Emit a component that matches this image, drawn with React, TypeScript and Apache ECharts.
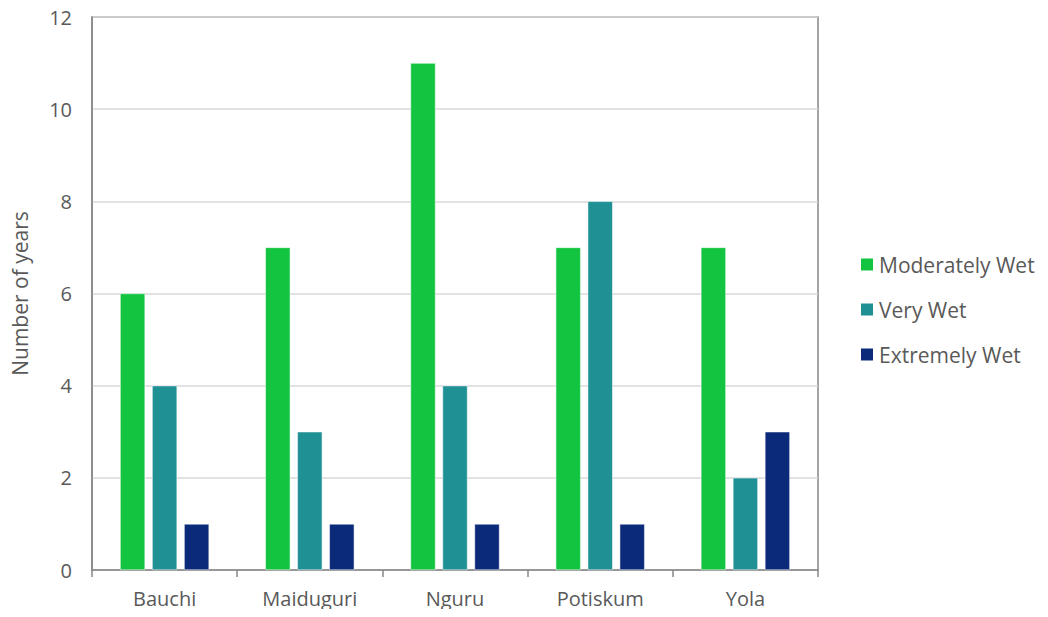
import React, { useEffect, useRef } from "react";
import * as echarts from "echarts";

const categories = ["Bauchi", "Maiduguri", "Nguru", "Potiskum", "Yola"];
const moderatelyWet = [6, 7, 11, 7, 7];
const veryWet = [4, 3, 4, 8, 2];
const extremelyWet = [1, 1, 1, 1, 3];
const seriesNames = ["Moderately Wet", "Very Wet", "Extremely Wet"];
const colors = ["#12C440", "#1F9094", "#0C2A7A"];

export default function App() {
  const ref = useRef<HTMLDivElement>(null);
  useEffect(() => {
    if (!ref.current) return;
    const chart = echarts.init(ref.current, null, { renderer: "svg" });
    const font = "'Open Sans', 'Noto Sans', sans-serif";
    const mk = (name: string, data: number[], color: string) => ({
      name,
      type: "bar",
      data,
      barWidth: 25,
      barGap: "28%",
      itemStyle: { color, borderColor: "#ffffff", borderWidth: 0.5 },
    });
    chart.setOption({
      animation: false,
      textStyle: { fontFamily: font },
      grid: {
        left: 92,
        top: 17,
        width: 726,
        height: 553,
        show: true,
        borderColor: "#878787",
        borderWidth: 1.5,
        containLabel: false,
        outerBoundsMode: "none",
      },
      legend: {
        orient: "vertical",
        left: 854,
        top: 249,
        itemWidth: 14,
        itemHeight: 14,
        itemGap: 24,
        icon: "rect",
        textStyle: { fontSize: 21, color: "#595959", fontFamily: font },
        data: seriesNames,
      },
      xAxis: {
        type: "category",
        data: categories,
        axisLine: { lineStyle: { color: "#878787", width: 1.5 } },
        axisTick: { show: true, length: 7, lineStyle: { color: "#878787", width: 1.5 } },
        axisLabel: { fontSize: 20, color: "#595959", margin: 18, fontFamily: font },
      },
      yAxis: {
        type: "value",
        min: 0,
        max: 12,
        interval: 2,
        name: "Number of years",
        nameLocation: "middle",
        nameGap: 62,
        nameTextStyle: { fontSize: 21, color: "#595959", fontFamily: font },
        axisLine: { show: true, lineStyle: { color: "#878787", width: 1.5 } },
        axisTick: { show: false },
        axisLabel: { fontSize: 20, color: "#595959", margin: 20, fontFamily: font },
        splitLine: { lineStyle: { color: "#D9D9D9", width: 1.5 } },
      },
      series: [
        mk(seriesNames[0], moderatelyWet, colors[0]),
        mk(seriesNames[1], veryWet, colors[1]),
        mk(seriesNames[2], extremelyWet, colors[2]),
      ],
    });
    return () => chart.dispose();
  }, []);
  return <div ref={ref} style={{ width: 1048, height: 617, margin: -8 }} />;
}
